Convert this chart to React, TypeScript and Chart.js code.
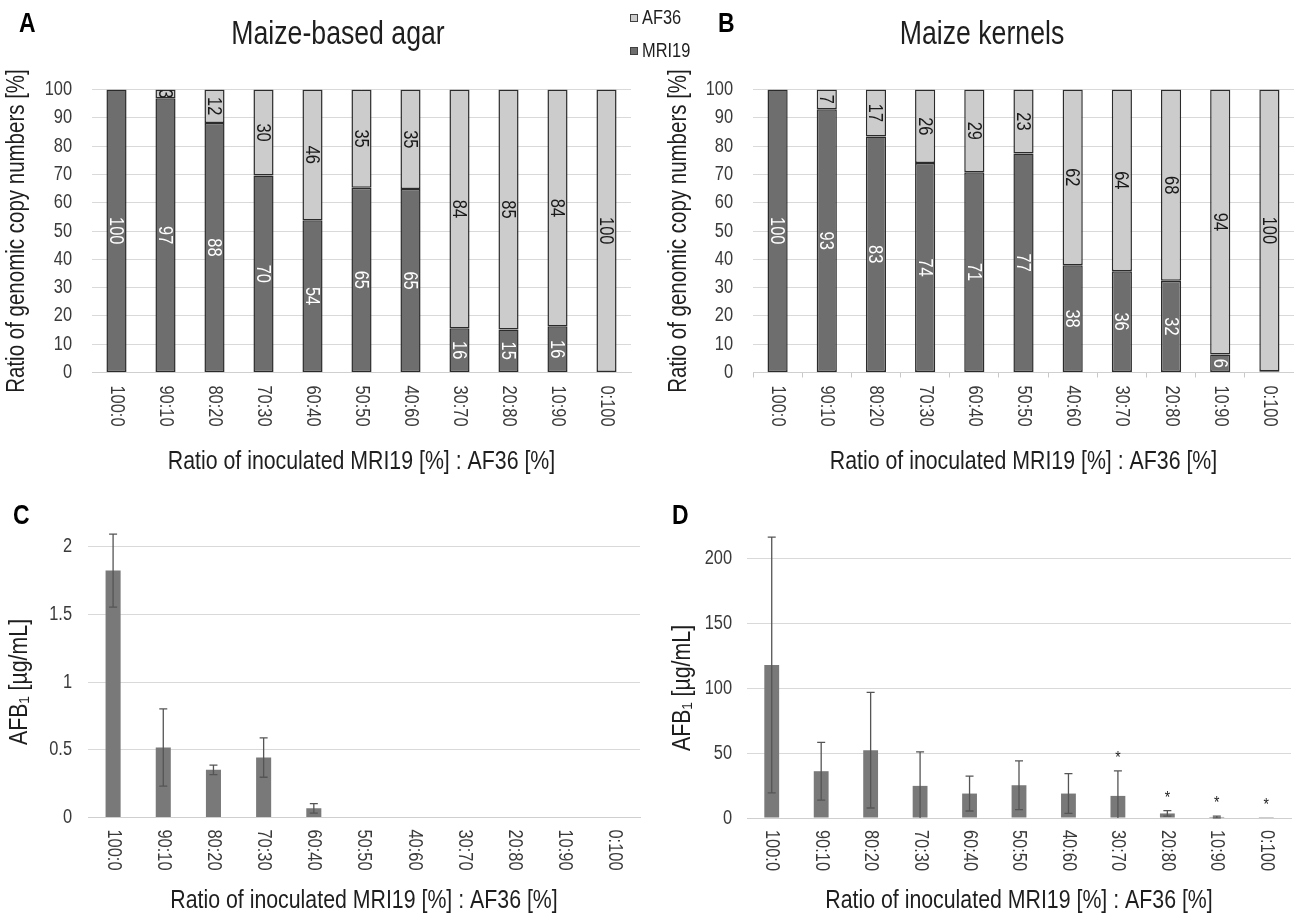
import React, { useEffect, useRef } from 'react';
import { Chart, registerables } from 'chart.js';
Chart.register(...registerables);

const FONT = '"Liberation Sans", Arial, sans-serif';
const NARROW = 0.82; // the reference uses a condensed (Arial Narrow like) face

// ---------- data ----------
const ratioLabels = ['100:0', '90:10', '80:20', '70:30', '60:40', '50:50', '40:60', '30:70', '20:80', '10:90', '0:100'];
const seriesNames = ['MRI19', 'AF36'];
const agarMRI19 = [100, 96.9, 88.2, 69.6, 53.8, 65.3, 64.8, 15.6, 15.2, 16.3, 0];
const agarAF36 = [0, 3.1, 11.8, 30.4, 46.2, 34.7, 35.2, 84.4, 84.8, 83.7, 100];
const kernelMRI19 = [100, 93.0, 83.4, 74.0, 70.8, 77.4, 37.9, 35.8, 32.4, 6.4, 0.4];
const kernelAF36 = [0, 7.0, 16.6, 26.0, 29.2, 22.6, 62.1, 64.2, 67.6, 93.6, 99.6];
const agarAFB1 = [1.822, 0.516, 0.352, 0.442, 0.068, 0, 0, 0, 0, 0, 0];
const agarAFB1SD = [0.27, 0.285, 0.035, 0.145, 0.035, 0, 0, 0, 0, 0, 0];
const kernelAFB1 = [117.7, 36, 52.2, 24.7, 18.8, 25.2, 18.8, 17, 3.5, 0.8, 0.1];
const kernelAFB1SD = [98.3, 22.2, 44.5, 26.2, 13.4, 18.8, 15.3, 19.2, 2.1, 0.7, 0];
const kernelSignificance = ['', '', '', '', '', '', '', '*', '*', '*', '*'];
const percentTicks = { min: 0, max: 100, step: 10 };
const agarTicks = { min: 0, max: 2, step: 0.5 };
const kernelTicks = { min: 0, max: 200, step: 50 };

const DARK = '#6e6e6e';
const LIGHT = '#cccccc';
const EDGE = '#2b2b2b';
const GRID = '#d9d9d9';
const TEXT = '#3a3a3a';

// ---------- plugins ----------
const rotatedXLabels = {
  id: 'rotatedXLabels',
  afterDraw(chart: any, _a: any, opts: any) {
    const s = chart.scales.x;
    const ctx = chart.ctx;
    ctx.save();
    ctx.font = `${opts.size}px ${FONT}`;
    ctx.fillStyle = opts.color;
    ctx.textAlign = 'left';
    ctx.textBaseline = 'middle';
    (chart.data.labels as string[]).forEach((l, i) => {
      const x = s.getPixelForValue(i);
      const y = chart.chartArea.bottom + opts.offset;
      ctx.save();
      ctx.translate(x, y);
      ctx.rotate(Math.PI / 2);
      ctx.fillText(l, 0, 0);
      ctx.restore();
    });
    ctx.restore();
  },
};

const segmentLabels = {
  id: 'segmentLabels',
  afterDatasetsDraw(chart: any, _a: any, opts: any) {
    const ctx = chart.ctx;
    const area = chart.chartArea;
    ctx.save();
    ctx.beginPath();
    ctx.rect(area.left, area.top, area.right - area.left, area.bottom - area.top);
    ctx.clip();
    ctx.font = `${opts.size}px ${FONT}`;
    ctx.textAlign = 'center';
    ctx.textBaseline = 'middle';
    chart.data.datasets.forEach((ds: any, di: number) => {
      const meta = chart.getDatasetMeta(di);
      meta.data.forEach((bar: any, i: number) => {
        const v = ds.data[i];
        if (v < 1) return;
        const p = bar.getProps(['x', 'y', 'base'], true);
        ctx.save();
        ctx.translate(p.x, (p.y + p.base) / 2);
        ctx.rotate(Math.PI / 2);
        ctx.fillStyle = opts.colors[di];
        ctx.fillText(String(Math.round(v)), 0, 1);
        ctx.restore();
      });
    });
    ctx.restore();
  },
};

const errorBars = {
  id: 'errorBars',
  afterDatasetsDraw(chart: any, _a: any, opts: any) {
    const ctx = chart.ctx;
    const ys = chart.scales.y;
    const area = chart.chartArea;
    const meta = chart.getDatasetMeta(0);
    const ds = chart.data.datasets[0];
    const cap = 4;
    ctx.save();
    ctx.strokeStyle = opts.color;
    ctx.lineWidth = 1.3;
    ctx.fillStyle = '#222';
    ctx.font = `17px ${FONT}`;
    ctx.textAlign = 'center';
    ctx.textBaseline = 'bottom';
    meta.data.forEach((bar: any, i: number) => {
      const m = ds.data[i];
      const sd = opts.sd[i];
      const x = bar.x;
      const top = ys.getPixelForValue(m + sd);
      if (sd) {
        let low = ys.getPixelForValue(m - sd);
        const lowCap = low <= area.bottom + 0.5;
        if (!lowCap) low = area.bottom;
        ctx.beginPath();
        ctx.moveTo(x, top);
        ctx.lineTo(x, low);
        ctx.moveTo(x - cap, top);
        ctx.lineTo(x + cap, top);
        if (lowCap) {
          ctx.moveTo(x - cap, low);
          ctx.lineTo(x + cap, low);
        }
        ctx.stroke();
      }
      if (opts.marks && opts.marks[i]) {
        ctx.fillText(opts.marks[i], x, top - 4);
      }
    });
    ctx.restore();
  },
};

const plainNumber = (v: any) => `${+Number(v).toFixed(2)}`;

// ---------- configs ----------
function stackedConfig(title: string, mri: number[], af: number[], g: any) {
  return {
    type: 'bar',
    data: {
      labels: ratioLabels,
      datasets: [
        { label: seriesNames[0], data: mri, backgroundColor: DARK, borderColor: EDGE, borderWidth: 1.5, borderSkipped: false, barPercentage: 0.41, categoryPercentage: 1 },
        { label: seriesNames[1], data: af, backgroundColor: LIGHT, borderColor: EDGE, borderWidth: 1.5, borderSkipped: false, barPercentage: 0.41, categoryPercentage: 1 },
      ],
    },
    plugins: [segmentLabels, rotatedXLabels],
    options: {
      animation: false,
      responsive: false,
      devicePixelRatio: 1,
      layout: { padding: 0 },
      plugins: {
        legend: { display: false },
        tooltip: { enabled: false },
        title: { display: true, text: title, color: '#1e1e1e', font: { family: FONT, size: 32.5, weight: 'normal' }, padding: { top: 15.5, bottom: 35 } },
        segmentLabels: { size: 20, colors: ['#ffffff', '#1a1a1a'] },
        rotatedXLabels: { size: 20, color: TEXT, offset: 13 },
      },
      scales: {
        x: {
          stacked: true,
          ticks: { display: false },
          grid: { display: g.xTicks, drawOnChartArea: false, drawTicks: true, tickLength: 5, offset: true, color: '#c8c8c8' },
          border: { display: true, color: '#cfcfcf', width: 1 },
          title: { display: true, text: 'Ratio of inoculated MRI19 [%] : AF36 [%]', color: '#1e1e1e', font: { family: FONT, size: 26 }, padding: { top: 0, bottom: 2.4 } },
          afterFit: (s: any) => { s.height = g.xHeight; },
        },
        y: {
          stacked: true,
          min: percentTicks.min,
          max: percentTicks.max,
          ticks: { stepSize: percentTicks.step, color: TEXT, font: { family: FONT, size: 20 }, padding: 20 },
          grid: { color: GRID, drawTicks: false, lineWidth: 1 },
          border: { display: false },
          title: { display: true, text: 'Ratio of genomic copy numbers [%]', color: '#1e1e1e', font: { family: FONT, size: 25 }, padding: { top: g.yTitlePad, bottom: 0 } },
          afterFit: (s: any) => { s.width = g.yWidth; },
        },
        y2: {
          position: 'right',
          display: true,
          ticks: { display: false },
          grid: { display: false },
          border: { display: false },
          afterFit: (s: any) => { s.width = g.rightGap; },
        },
      },
    },
  };
}

function afbConfig(values: number[], sd: number[], marks: string[] | null, t: any, g: any) {
  return {
    type: 'bar',
    data: {
      labels: ratioLabels,
      datasets: [
        { label: 'AFB1', data: values, backgroundColor: '#797979', borderWidth: 0, barPercentage: 0.3, categoryPercentage: 1 },
      ],
    },
    plugins: [errorBars, rotatedXLabels],
    options: {
      animation: false,
      responsive: false,
      devicePixelRatio: 1,
      layout: { padding: { top: g.top, right: g.right, left: 0, bottom: 0 } },
      plugins: {
        legend: { display: false },
        tooltip: { enabled: false },
        title: { display: false },
        errorBars: { sd, marks, color: '#555555' },
        rotatedXLabels: { size: 20, color: TEXT, offset: 12 },
      },
      scales: {
        x: {
          ticks: { display: false },
          grid: { display: false },
          border: { display: true, color: '#cfcfcf', width: 1 },
          title: { display: true, text: 'Ratio of inoculated MRI19 [%] : AF36 [%]', color: '#1e1e1e', font: { family: FONT, size: 26 }, padding: { top: 0, bottom: 0 } },
          afterFit: (s: any) => { s.height = g.xHeight; },
        },
        y: {
          min: t.min,
          max: t.max,
          ticks: { stepSize: t.step, color: TEXT, font: { family: FONT, size: 20 }, padding: g.tickPad, callback: plainNumber },
          grid: { color: GRID, drawTicks: false, lineWidth: 1 },
          border: { display: false },
          title: { display: true, text: 'AFB₁ [µg/mL]', color: '#1e1e1e', font: { family: FONT, size: 26 }, padding: { top: g.yTitlePad, bottom: 0 } },
          afterFit: (s: any) => { s.width = g.yWidth; },
        },
      },
    },
  };
}

// condense every text run along its own direction, like a narrow face
function condense(ctx: any, k: number) {
  const fill = ctx.fillText.bind(ctx);
  const measure = ctx.measureText.bind(ctx);
  ctx.fillText = (t: string, x: number, y: number, mw?: number) => {
    ctx.save();
    ctx.translate(x, y);
    ctx.scale(k, 1);
    if (mw == null) fill(t, 0, 0);
    else fill(t, 0, 0, mw / k);
    ctx.restore();
  };
  ctx.measureText = (t: string) => {
    const m = measure(t);
    return {
      width: m.width * k,
      actualBoundingBoxLeft: m.actualBoundingBoxLeft * k,
      actualBoundingBoxRight: m.actualBoundingBoxRight * k,
      actualBoundingBoxAscent: m.actualBoundingBoxAscent,
      actualBoundingBoxDescent: m.actualBoundingBoxDescent,
      fontBoundingBoxAscent: m.fontBoundingBoxAscent,
      fontBoundingBoxDescent: m.fontBoundingBoxDescent,
    };
  };
}

function Panel({ make, left, top, width, height }: any) {
  const ref = useRef<HTMLCanvasElement>(null);
  useEffect(() => {
    const canvas = ref.current as HTMLCanvasElement;
    condense(canvas.getContext('2d'), NARROW);
    const chart = new Chart(canvas, make() as any);
    return () => chart.destroy();
  }, []);
  return (
    <canvas
      ref={ref}
      width={width}
      height={height}
      style={{ position: 'absolute', left, top, width, height, display: 'block' }}
    />
  );
}

const letterStyle: any = {
  position: 'absolute',
  fontFamily: FONT,
  fontWeight: 'bold',
  fontSize: 28,
  lineHeight: '28px',
  color: '#000',
  transform: `scaleX(${NARROW})`,
  transformOrigin: 'left top',
};

const legendText: any = {
  position: 'absolute',
  fontFamily: FONT,
  fontSize: 20,
  lineHeight: '20px',
  color: '#1e1e1e',
  whiteSpace: 'nowrap',
  transform: `scaleX(${NARROW})`,
  transformOrigin: 'left top',
};

export default function App() {
  return (
    <div style={{ position: 'absolute', left: 0, top: 0, width: 1294, height: 916, overflow: 'hidden', background: '#ffffff' }}>
      <Panel
        left={0} top={0} width={676} height={480}
        make={() => stackedConfig('Maize-based agar', agarMRI19, agarAF36, { xTicks: false, xHeight: 107.5, yWidth: 92, yTitlePad: 2, rightGap: 45 })}
      />
      <Panel
        left={660} top={0} width={644} height={480}
        make={() => stackedConfig('Maize kernels', kernelMRI19, kernelAF36, { xTicks: true, xHeight: 107.5, yWidth: 93, yTitlePad: 4, rightGap: 10 })}
      />
      <Panel
        left={0} top={480} width={660} height={436}
        make={() => afbConfig(agarAFB1, agarAFB1SD, null, agarTicks, { top: 66.5, right: 20, xHeight: 98.5, yWidth: 88, tickPad: 16, yTitlePad: 4.4 })}
      />
      <Panel
        left={660} top={480} width={634} height={436}
        make={() => afbConfig(kernelAFB1, kernelAFB1SD, kernelSignificance, kernelTicks, { top: 78, right: 3, xHeight: 98, yWidth: 87, tickPad: 15, yTitlePad: 7.4 })}
      />
      <div style={{ ...letterStyle, left: 19, top: 8.5 }}>A</div>
      <div style={{ ...letterStyle, left: 718, top: 8.5 }}>B</div>
      <div style={{ ...letterStyle, left: 13, top: 500.5 }}>C</div>
      <div style={{ ...letterStyle, left: 672, top: 500.5 }}>D</div>
      <div style={{ position: 'absolute', left: 630, top: 13.5, width: 6, height: 6, background: LIGHT, border: '1px solid #404040' }} />
      <div style={{ ...legendText, left: 642, top: 7.2 }}>{seriesNames[1]}</div>
      <div style={{ position: 'absolute', left: 630, top: 46.5, width: 6, height: 6, background: DARK, border: '1px solid #404040' }} />
      <div style={{ ...legendText, left: 642, top: 40.2 }}>{seriesNames[0]}</div>
    </div>
  );
}
